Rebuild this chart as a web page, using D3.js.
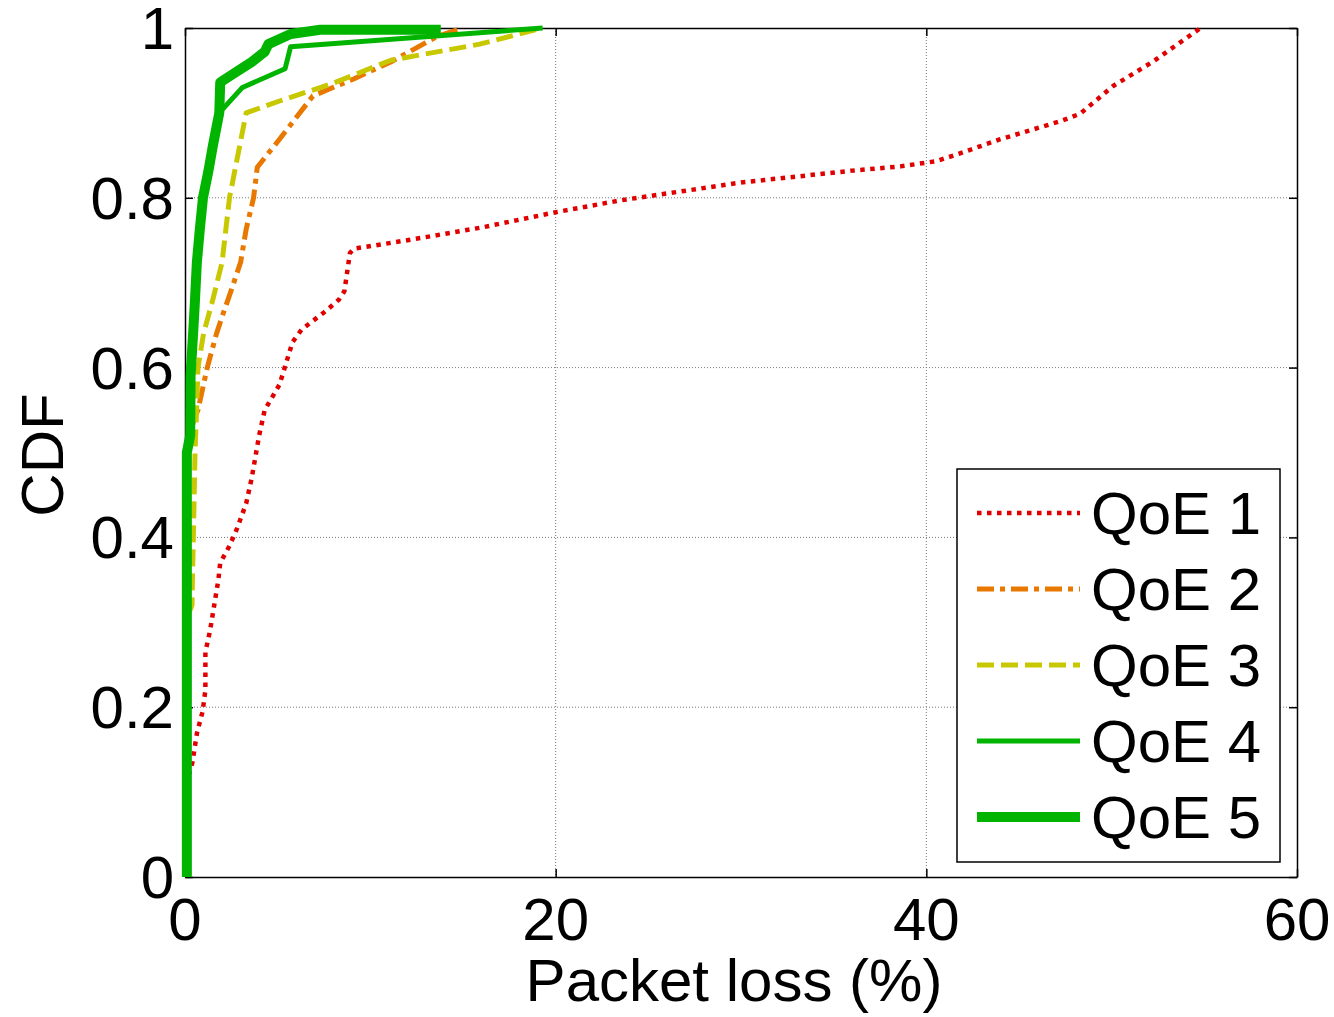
<!DOCTYPE html>
<html>
<head>
<meta charset="utf-8">
<script src="https://cdn.jsdelivr.net/npm/d3@7"></script>
<style>
body { margin: 0; background: #fff; }
text { font-family: "Liberation Sans", Arial, sans-serif; fill: #000; }
</style>
</head>
<body>
<script>
// packet loss (%) vs CDF, one array per QoE level
var qoe1 = [[0.2,0.12],[0.4,0.135],[0.65,0.17],[0.95,0.195],[1.1,0.22],[1.1,0.265],[1.35,0.29],[1.5,0.31],[1.8,0.35],[1.9,0.37],[2.4,0.39],[2.8,0.41],[3.3,0.44],[3.6,0.47],[4.0,0.52],[4.3,0.55],[5.1,0.58],[5.8,0.63],[6.3,0.645],[7.5,0.665],[8.3,0.68],[8.6,0.69],[8.9,0.735],[9.1,0.74],[12,0.75],[16,0.765],[20,0.783],[23.5,0.797],[30,0.818],[36,0.832],[38.6,0.837],[40.5,0.843],[41.5,0.85],[44,0.869],[47.2,0.89],[48.3,0.899],[50.1,0.932],[52.2,0.96],[54.8,1.0]];
var qoe2 = [[0,0],[0,0.5],[0.5,0.54],[0.7,0.55],[0.8,0.56],[1.2,0.6],[1.7,0.64],[2.0,0.66],[2.4,0.685],[3.0,0.724],[3.3,0.763],[3.7,0.8],[3.9,0.836],[5.1,0.869],[6.9,0.92],[9.1,0.94],[11.1,0.96],[13.6,0.99],[15,1.0]];
var qoe3 = [[0,0],[0,0.3],[0.38,0.32],[0.4,0.35],[0.45,0.4],[0.54,0.5],[0.64,0.56],[0.7,0.6],[1.0,0.64],[1.5,0.68],[2.0,0.724],[2.4,0.8],[3.3,0.9],[5.1,0.914],[8,0.935],[11.1,0.962],[15.9,0.981],[19.3,1.0]];
var qoe4 = [[0.1,0],[0.1,0.5],[0.28,0.52],[0.3,0.59],[0.45,0.645],[0.54,0.68],[0.64,0.724],[0.8,0.763],[0.97,0.8],[1.25,0.83],[1.5,0.861],[1.85,0.9],[3.1,0.93],[5.4,0.952],[5.7,0.978],[19.3,1.0]];
var qoe5 = [[0.1,0],[0.1,0.5],[0.28,0.52],[0.3,0.59],[0.45,0.645],[0.54,0.68],[0.64,0.724],[0.8,0.763],[0.97,0.8],[1.25,0.83],[1.5,0.861],[1.85,0.9],[1.9,0.936],[2.6,0.946],[3.6,0.96],[4.3,0.972],[4.5,0.981],[5.7,0.993],[7.3,0.998],[13.8,0.998]];
var seriesNames = ["QoE 1", "QoE 2", "QoE 3", "QoE 4", "QoE 5"];
var xTicks = [0, 20, 40, 60];
var yTicks = [0, 0.2, 0.4, 0.6, 0.8, 1];

var styles = [
    {color: "#e00000", width: 4.5, dash: "4.5,5.5"},
    {color: "#e87800", width: 5, dash: "17,6,5,6"},
    {color: "#c8c800", width: 5, dash: "17,7"},
    {color: "#00b400", width: 5, dash: null},
    {color: "#00b400", width: 10, dash: null}
];
var allSeries = [qoe1, qoe2, qoe3, qoe4, qoe5];

var pLeft = 185, pRight = 1297, pTop = 28, pBottom = 877;

var x = d3.scaleLinear().domain([0, 60]).range([pLeft, pRight]);
var y = d3.scaleLinear().domain([0, 1]).range([pBottom, pTop]);

var svg = d3.select("body").append("svg")
            .attr("width", 1334)
            .attr("height", 1017);

// grid
svg.selectAll("line.gx")
    .data(xTicks.slice(1, -1))
    .enter().append("line")
        .attr("x1", function (d) { return x(d); })
        .attr("x2", function (d) { return x(d); })
        .attr("y1", pTop).attr("y2", pBottom)
        .attr("stroke", "#777").attr("stroke-width", 1)
        .attr("stroke-dasharray", "1,2");
svg.selectAll("line.gy")
    .data(yTicks.slice(1, -1))
    .enter().append("line")
        .attr("y1", function (d) { return y(d); })
        .attr("y2", function (d) { return y(d); })
        .attr("x1", pLeft).attr("x2", pRight)
        .attr("stroke", "#777").attr("stroke-width", 1)
        .attr("stroke-dasharray", "1,2");

// axes with inward ticks on all four sides
var tickLen = 8;
svg.append("g").attr("transform", "translate(0," + pBottom + ")")
    .call(d3.axisBottom(x).tickValues(xTicks).tickSizeInner(-tickLen).tickSizeOuter(0).tickFormat(""));
svg.append("g").attr("transform", "translate(0," + pTop + ")")
    .call(d3.axisTop(x).tickValues(xTicks).tickSizeInner(-tickLen).tickSizeOuter(0).tickFormat(""));
svg.append("g").attr("transform", "translate(" + pLeft + ",0)")
    .call(d3.axisLeft(y).tickValues(yTicks).tickSizeInner(-tickLen).tickSizeOuter(0).tickFormat(""));
svg.append("g").attr("transform", "translate(" + pRight + ",0)")
    .call(d3.axisRight(y).tickValues(yTicks).tickSizeInner(-tickLen).tickSizeOuter(0).tickFormat(""));
svg.selectAll(".domain").attr("stroke", "#000").attr("stroke-width", 1.5);
svg.selectAll(".tick line").attr("stroke", "#000").attr("stroke-width", 1.5);

// tick labels
svg.selectAll("text.xt")
    .data(xTicks)
    .enter().append("text")
        .attr("x", function (d) { return x(d); })
        .attr("y", pBottom + 63)
        .attr("text-anchor", "middle")
        .attr("font-size", 60)
        .text(function (d) { return d; });
svg.selectAll("text.yt")
    .data(yTicks)
    .enter().append("text")
        .attr("x", pLeft - 11)
        .attr("y", function (d) { return y(d) + 21; })
        .attr("text-anchor", "end")
        .attr("font-size", 60)
        .text(function (d) { return (d === 0 || d === 1) ? d : d.toFixed(1); });

svg.append("text")
    .attr("x", 734).attr("y", 1001)
    .attr("text-anchor", "middle").attr("font-size", 60)
    .text("Packet loss (%)");
svg.append("text")
    .attr("transform", "translate(63,455) rotate(-90)")
    .attr("text-anchor", "middle").attr("font-size", 60)
    .text("CDF");

// curves
var line = d3.line()
            .x(function (d) { return x(d[0]); })
            .y(function (d) { return y(d[1]); });

for (var i = 0; i < allSeries.length; i++) {
    svg.append("path")
        .attr("fill", "none")
        .attr("stroke", styles[i].color)
        .attr("stroke-width", styles[i].width)
        .attr("stroke-dasharray", styles[i].dash)
        .attr("stroke-linejoin", "round")
        .attr("d", line(allSeries[i]));
}

// legend
var lg = svg.append("g");
lg.append("rect")
    .attr("x", 957).attr("y", 469)
    .attr("width", 323).attr("height", 393)
    .attr("fill", "#fff").attr("stroke", "#000").attr("stroke-width", 1.5);
for (var j = 0; j < seriesNames.length; j++) {
    var ry = 513 + j * 76;
    lg.append("line")
        .attr("x1", 977).attr("x2", 1080)
        .attr("y1", ry).attr("y2", ry)
        .attr("stroke", styles[j].color)
        .attr("stroke-width", styles[j].width)
        .attr("stroke-dasharray", styles[j].dash);
    lg.append("text")
        .attr("x", 1091).attr("y", ry + 21)
        .attr("font-size", 60)
        .text(seriesNames[j]);
}
</script>
</body>
</html>
